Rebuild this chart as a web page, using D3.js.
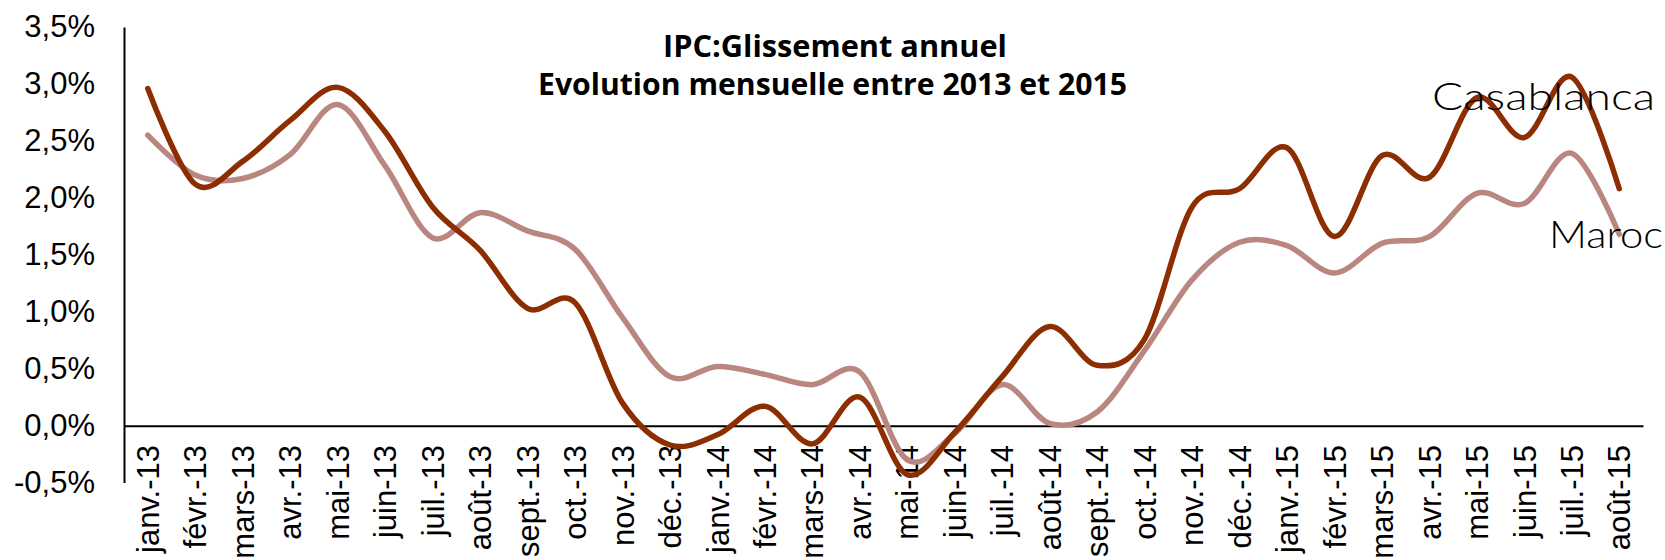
<!DOCTYPE html>
<html>
<head>
<meta charset="utf-8">
<script src="https://cdn.jsdelivr.net/npm/d3@7"></script>
<style>
  html, body { margin: 0; padding: 0; background: #fff; }
  svg { display: block; }
</style>
</head>
<body>
<svg id="chart" width="1665" height="560"></svg>
<script>
const categories = ["janv.-13","févr.-13","mars-13","avr.-13","mai-13","juin-13","juil.-13","août-13","sept.-13","oct.-13","nov.-13","déc.-13",
  "janv.-14","févr.-14","mars-14","avr.-14","mai-14","juin-14","juil.-14","août-14","sept.-14","oct.-14","nov.-14","déc.-14",
  "janv.-15","févr.-15","mars-15","avr.-15","mai-15","juin-15","juil.-15","août-15"];
const casablanca = [2.96, 2.12, 2.32, 2.68, 2.97, 2.58, 1.92, 1.54, 1.03, 1.08, 0.20, -0.17,
  -0.08, 0.17, -0.16, 0.25, -0.43, -0.06, 0.43, 0.87, 0.53, 0.76, 1.92, 2.08,
  2.44, 1.66, 2.37, 2.18, 2.88, 2.53, 3.06, 2.08];
const maroc = [2.55, 2.20, 2.17, 2.38, 2.82, 2.28, 1.65, 1.87, 1.71, 1.55, 0.95, 0.43,
  0.52, 0.45, 0.36, 0.47, -0.30, -0.07, 0.36, 0.02, 0.12, 0.66, 1.28, 1.61,
  1.58, 1.34, 1.60, 1.66, 2.04, 1.95, 2.39, 1.68];
const yTicks = [-0.5, 0, 0.5, 1, 1.5, 2, 2.5, 3, 3.5];
const yTickLabels = ["-0,5%", "0,0%", "0,5%", "1,0%", "1,5%", "2,0%", "2,5%", "3,0%", "3,5%"];
const titleLines = ["IPC:Glissement annuel", "Evolution mensuelle entre 2013 et 2015"];
const seriesNames = ["Casablanca", "Maroc"];

const svg = d3.select("#chart");
const x = d3.scaleBand().domain(categories).range([124, 1643]).paddingInner(0).paddingOuter(0);
const y = d3.scaleLinear().domain([-0.5, 3.5]).range([482.6, 27.0]);
const cx = c => x(c) + x.bandwidth() / 2;

// Y axis
const yAxis = svg.append("g").attr("transform", "translate(124,0)")
  .call(d3.axisLeft(y).tickValues(yTicks).tickSize(0).tickPadding(29)
    .tickFormat((d, i) => yTickLabels[i]));
yAxis.select(".domain").attr("stroke", "#000").attr("stroke-width", 2);
yAxis.selectAll("text").attr("font-family", "Liberation Sans, Arial, sans-serif")
  .attr("font-size", 31).attr("fill", "#000");

// X axis at zero
const xAxis = svg.append("g").attr("transform", `translate(0,${y(0)})`)
  .call(d3.axisBottom(x).tickSize(0).tickPadding(0));
xAxis.select(".domain").attr("stroke", "#000").attr("stroke-width", 2);
xAxis.selectAll("text")
  .attr("font-family", "Liberation Sans, Arial, sans-serif")
  .attr("font-size", 31).attr("fill", "#000")
  .attr("text-anchor", "end")
  .attr("transform", "rotate(-90)")
  .attr("x", -(445 - y(0)))
  .attr("y", 0)
  .attr("dy", "0.36em");

// Lines
const line = d3.line().x((d, i) => cx(categories[i])).y(d => y(d))
  .curve(d3.curveCatmullRom.alpha(0));
svg.append("path").datum(maroc).attr("d", line).attr("fill", "none")
  .attr("stroke", "#B9877F").attr("stroke-width", 5.5).attr("stroke-linecap", "round");
svg.append("path").datum(casablanca).attr("d", line).attr("fill", "none")
  .attr("stroke", "#8C2D02").attr("stroke-width", 5.5).attr("stroke-linecap", "round");

// Title
const titleFont = "'Open Sans', 'DejaVu Sans', sans-serif";
svg.append("text").attr("x", 835).attr("y", 57).attr("text-anchor", "middle")
  .attr("font-family", titleFont).attr("font-weight", 700).attr("font-size", 30)
  .attr("textLength", 344).attr("lengthAdjust", "spacingAndGlyphs").text(titleLines[0]);
svg.append("text").attr("x", 832.5).attr("y", 95).attr("text-anchor", "middle")
  .attr("font-family", titleFont).attr("font-weight", 700).attr("font-size", 30)
  .attr("textLength", 589).attr("lengthAdjust", "spacingAndGlyphs").text(titleLines[1]);

// Series labels
const labFont = "Lato, 'Open Sans', sans-serif";
svg.append("text").attr("x", 1432).attr("y", 110)
  .attr("font-family", labFont).attr("font-weight", 300).attr("font-size", 37)
  .attr("textLength", 223).attr("lengthAdjust", "spacingAndGlyphs").text(seriesNames[0]);
svg.append("text").attr("x", 1549).attr("y", 248)
  .attr("font-family", labFont).attr("font-weight", 300).attr("font-size", 37)
  .attr("textLength", 114).attr("lengthAdjust", "spacingAndGlyphs").text(seriesNames[1]);
</script>
</body>
</html>
